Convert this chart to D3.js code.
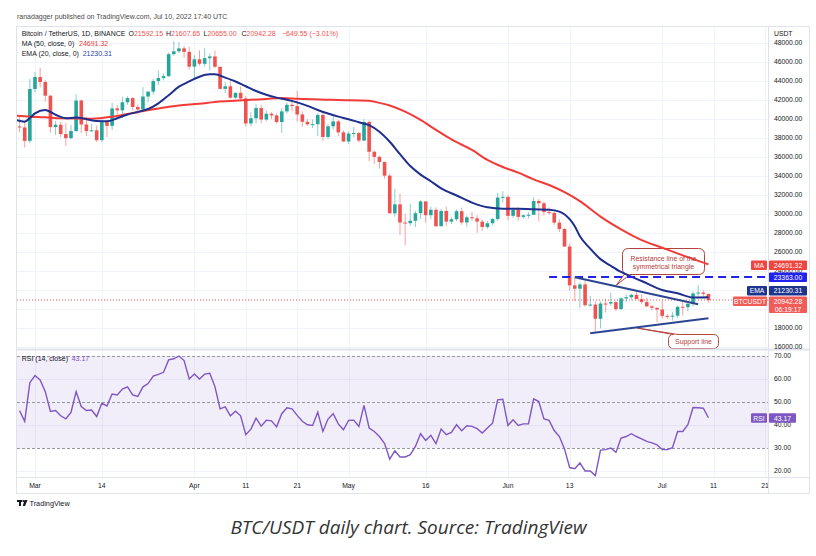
<!DOCTYPE html>
<html><head><meta charset="utf-8">
<script src="https://cdn.jsdelivr.net/npm/d3@7/dist/d3.min.js"></script>
<style>
html,body{margin:0;padding:0;background:#fff;}
svg{display:block;font-family:"Liberation Sans",Arial,sans-serif;}
</style></head><body>
<svg id="chart" width="816" height="556"></svg>
<script>
// ---------------- DATA ----------------
const firstDay = "2022-02-26"; // candles are consecutive daily bars from here
const opens = [39214,39105,37699,
43160,44421,43892,42454,39148,39397,38420,37988,38730,41941,39422,38729,38807,37777,39671,39280,41114,40917,41757,42201,41262,41002,42364,42882,43991,44313,44511,46827,47122,47434,47067,
45510,46283,45811,46407,46580,45497,43170,43445,42252,42754,42159,39530,40075,41147,39943,40552,40378,39679,40801,41493,41358,40480,39709,39441,39450,40426,38112,39235,39742,38596,
37630,38468,38525,37729,39690,36552,36013,35472,34039,30076,31017,29103,29030,29287,30086,31328,29874,30444,28715,30319,29201,29445,30293,29110,29655,29543,29202,28630,29031,29469,31734,
31802,29805,30452,29700,29864,29919,31373,31125,30204,30109,29091,28424,26574,22486,22136,22584,20401,20468,18970,20574,20573,20723,19987,21110,21237,21491,21038,20742,20281,20123,
19942,19279,19243,19297,20231,20190,20548,21637,21731,21592.15];
const highs = [40300,39855,44225,
44949,45400,44101,42527,39794,39693,39547,39362,42594,42039,40236,39486,39310,39947,39887,41718,41478,42325,42400,42296,41544,43361,42893,44220,45094,44792,46999,48189,48096,47700,47600,
46720,47213,47444,46890,47200,45507,43900,43970,42800,43434,42414,40699,41561,41500,40870,40709,40595,41145,41760,42199,42976,40795,39980,39940,40616,40797,39474,40372,39925,38795,
38675,39167,38651,39980,39845,36675,36146,35514,34243,32659,32163,30032,31083,30343,31460,31328,30788,30709,30545,30777,29656,30487,30670,29834,30223,29872,29397,29266,29587,32222,32399,
31982,30679,30699,29955,30189,31765,31589,31327,30700,30383,29440,28544,26895,23362,22800,22995,21365,20792,20815,21090,21723,20900,21233,21558,21614,21868,21540,21200,20432,20179,
20900,19438,19653,20354,20740,20675,21838,22527,21955,21607.65];
const lows = [38600,37000,37450,
42809,43334,41833,38550,38311,38088,37155,37867,38656,38539,38223,38660,37578,37555,38098,38828,40500,40135,41499,40911,40467,40875,41750,42560,43579,44071,44422,46663,46950,46445,45200,
44200,45620,45530,45118,45353,43121,42727,42107,42125,41868,39200,39254,39588,39551,39766,39991,39546,38536,40571,40820,39751,39177,39285,39032,38200,37702,37881,38881,38175,37578,
37386,38052,37517,37670,35571,35258,34785,33714,30033,29730,27785,26700,28751,28630,29480,29087,29450,28654,28691,28730,28947,29255,28866,28669,29294,28019,28261,28450,28810,29299,31200,
29350,29594,29282,29485,29531,29890,29218,29843,29944,28850,28100,26560,21925,20846,20111,20232,20246,17622,17960,19637,20348,19770,19890,20740,20906,21019,20500,20188,19854,18626,
18975,18967,18781,19038,19305,19761,20257,21189,21338,20655.00];
const closes = [39105,37699,43160,
44421,43892,42454,39148,39397,38420,37988,38730,41941,39422,38729,38807,37777,39671,39280,41114,40917,41757,42201,41262,41002,42364,42882,43991,44313,44511,46827,47122,47434,47067,45510,
46283,45811,46407,46580,45497,43170,43445,42252,42754,42159,39530,40075,41147,39943,40552,40378,39679,40801,41493,41358,40480,39709,39441,39450,40426,38112,39235,39742,38596,37630,
38468,38525,37729,39690,36552,36013,35472,34039,30076,31017,29103,29030,29287,30086,31328,29874,30444,28715,30319,29201,29445,30293,29110,29655,29543,29202,28630,29031,29469,31734,31802,
29805,30452,29700,29864,29919,31373,31125,30204,30109,29091,28424,26574,22487,22136,22584,20401,20468,18970,20574,20573,20723,19987,21110,21237,21491,21038,20742,20281,20123,19942,
19279,19243,19297,20231,20190,20548,21637,21731,21592,20942.28];
const rsiValues = [46.2,41.6,58.4,
61.5,59.6,54.5,45.9,46.3,44.0,42.7,45.5,54.5,48.0,46.3,46.5,43.7,49.5,48.3,53.5,53.1,55.6,56.6,53.1,52.4,56.6,58.0,61.3,62.0,62.9,68.3,68.8,70.0,68.0,60.0,
62.2,60.0,62.1,62.5,56.7,47.0,47.9,44.0,46.0,44.0,35.8,38.2,43.0,39.5,42.1,41.8,39.2,44.9,47.5,47.0,44.2,41.6,40.1,39.8,45.5,37.2,42.6,44.9,40.5,37.9,
42.0,42.1,39.4,48.5,38.7,37.2,35.0,31.9,25.2,28.8,26.1,26.1,27.1,30.7,36.2,33.3,35.5,31.9,38.2,35.8,36.8,40.1,37.5,39.7,39.4,38.4,36.5,38.7,40.8,50.9,51.2,
39.8,42.3,39.8,40.5,40.5,51.4,50.2,42.6,42.0,37.6,35.0,29.6,21.5,21.0,23.5,20.0,20.0,18.0,29.1,29.3,30.0,28.1,34.3,35.0,36.2,35.0,34.0,32.9,32.2,31.4,
29.3,29.3,30.1,37.2,37.2,40.1,47.6,47.5,47.3,43.17];

const maDates = ["2022-02-25","2022-02-28","2022-03-03","2022-03-06","2022-03-12","2022-03-16","2022-03-19","2022-03-22","2022-03-25","2022-03-29","2022-04-02","2022-04-05","2022-04-08","2022-04-12","2022-04-15","2022-04-18","2022-04-21","2022-04-24","2022-04-29","2022-05-05","2022-05-07","2022-05-09","2022-05-12","2022-05-15","2022-05-18","2022-05-21","2022-05-25","2022-05-28","2022-05-31","2022-06-03","2022-06-06","2022-06-09","2022-06-12","2022-06-15","2022-06-19","2022-06-23","2022-06-27","2022-07-01","2022-07-05","2022-07-10"];
const maValues = [40350,40240,40180,40070,40030,40240,40530,40840,41110,41420,41600,41790,41890,42020,42110,42210,42140,42070,42000,41930,41700,41420,40770,39900,38850,37850,36740,35700,34950,34350,33650,33050,32300,31350,29720,28380,27250,26450,25650,24691.32];

const emaDates = ["2022-02-25","2022-02-27","2022-02-28","2022-03-01","2022-03-03","2022-03-05","2022-03-07","2022-03-09","2022-03-11","2022-03-13","2022-03-15","2022-03-17","2022-03-19","2022-03-21","2022-03-23","2022-03-25","2022-03-27","2022-03-29","2022-03-31","2022-04-02","2022-04-04","2022-04-05","2022-04-07","2022-04-09","2022-04-11","2022-04-13","2022-04-15","2022-04-17","2022-04-19","2022-04-21","2022-04-23","2022-04-25","2022-04-27","2022-04-29","2022-05-01","2022-05-03","2022-05-05","2022-05-07","2022-05-09","2022-05-11","2022-05-13","2022-05-15","2022-05-17","2022-05-19","2022-05-22","2022-05-25","2022-05-28","2022-05-31","2022-06-03","2022-06-06","2022-06-09","2022-06-11","2022-06-13","2022-06-14","2022-06-15","2022-06-17","2022-06-19","2022-06-21","2022-06-23","2022-06-27","2022-07-01","2022-07-04","2022-07-07","2022-07-10"];
const emaValues = [39950,39720,40100,40600,40950,40450,40080,40150,39980,39780,39760,40080,40480,40750,41050,41650,42500,43400,43950,44450,44700,44700,44350,43950,43450,42950,42550,42250,42030,41750,41380,40950,40580,40250,39980,39650,39350,38650,37600,36300,35050,34150,33450,32700,31950,31200,30700,30550,30560,30490,30450,30250,29450,28700,27650,26350,25250,24550,23900,22950,22000,21650,21200,21230.31];

const priceTicks = [16000,18000,20000,22000,24000,26000,28000,30000,32000,34000,36000,38000,40000,42000,44000,46000,48000];
const rsiTicks = [20,30,40,50,60,70];
const rsiDashed = [30,50,70];
const xTickDates = ["2022-03-01","2022-03-14","2022-04-01","2022-04-11","2022-04-21","2022-05-01","2022-05-16","2022-06-01","2022-06-13","2022-07-01","2022-07-11","2022-07-21"];
const xTickLabels = ["Mar","14","Apr","11","21","May","16","Jun","13","Jul","11","21"];

const resistanceDates = ["2022-06-14","2022-07-08"];
const resistanceValues = [23340,20500];
const supportDates = ["2022-06-17","2022-07-10"];
const supportValues = [17450,19030];
const levelStart = "2022-06-09";
const levelValue = 23363.00;

const lastMA = 24691.32, lastEMA = 21230.31, lastClose = 20942.28, lastRSI = 43.17;
const ohlcHeader = {O:"21592.15",H:"21607.65",L:"20655.00",C:"20942.28",chg:"\u2212649.55 (\u22123.01%)"};

// ---------------- LAYOUT ----------------
const L = 17, R = 768, AXR = 809, TOP = 27, PB = 349, RT = 350, RB = 477, XB = 493;
const UP = "#26a69a", DN = "#ef5350";
const parse = d3.utcParse("%Y-%m-%d");
const svg = d3.select("#chart");

const x = d3.scaleUtc().domain([parse("2022-03-01"), parse("2022-07-21")]).range([35, 765]);
const y = d3.scaleLinear().domain([16000, 48000]).range([347, 43]);
const yr = d3.scaleLinear().domain([20, 70]).range([471, 356]);

const start = parse(firstDay);
const candles = closes.map((c, i) => ({date: d3.utcDay.offset(start, i), o: opens[i], h: highs[i], l: lows[i], c: c, rsi: rsiValues[i]}));

svg.append("rect").attr("width", 816).attr("height", 556).attr("fill", "#fff");

const defs = svg.append("defs");
defs.append("clipPath").attr("id", "cp").append("rect").attr("x", L).attr("y", TOP).attr("width", R - L).attr("height", PB - TOP);
defs.append("clipPath").attr("id", "cr").append("rect").attr("x", L).attr("y", RT).attr("width", R - L).attr("height", RB - RT);

// grid
const grid = svg.append("g").attr("stroke", "#f0f3fa").attr("stroke-width", 1);
xTickDates.forEach(d => {
  const xx = Math.round(x(parse(d))) + 0.5;
  if (xx < R) grid.append("line").attr("x1", xx).attr("x2", xx).attr("y1", TOP).attr("y2", RB);
});
priceTicks.forEach(v => {
  const yy = Math.round(y(v)) + 0.5;
  if (yy > TOP && yy < PB) grid.append("line").attr("x1", L).attr("x2", R).attr("y1", yy).attr("y2", yy);
});
[20, 40, 60].forEach(v => {
  const yy = Math.round(yr(v)) + 0.5;
  grid.append("line").attr("x1", L).attr("x2", R).attr("y1", yy).attr("y2", yy);
});

// RSI band
svg.append("rect").attr("x", L).attr("width", R - L).attr("y", yr(70)).attr("height", yr(30) - yr(70))
  .attr("fill", "#7e57c2").attr("fill-opacity", 0.1);
rsiDashed.forEach(v => {
  svg.append("line").attr("x1", L).attr("x2", R).attr("y1", Math.round(yr(v)) + 0.5).attr("y2", Math.round(yr(v)) + 0.5)
    .attr("stroke", "#9598a1").attr("stroke-width", 1).attr("stroke-dasharray", "3,2");
});

// price pane content
const pg = svg.append("g").attr("clip-path", "url(#cp)");

// last price dotted line
pg.append("line").attr("x1", L).attr("x2", R).attr("y1", y(lastClose)).attr("y2", y(lastClose))
  .attr("stroke", DN).attr("stroke-width", 1).attr("stroke-dasharray", "1,2");

const bw = 3.6;
const cg = pg.append("g");
cg.selectAll("line.wick").data(candles).join("line").attr("class", "wick")
  .attr("x1", d => x(d.date)).attr("x2", d => x(d.date))
  .attr("y1", d => y(d.h)).attr("y2", d => y(d.l))
  .attr("stroke", d => d.c >= d.o ? UP : DN).attr("stroke-opacity", 0.55).attr("stroke-width", 1);
cg.selectAll("rect.body").data(candles).join("rect").attr("class", "body")
  .attr("x", d => x(d.date) - bw / 2).attr("width", bw)
  .attr("y", d => y(Math.max(d.o, d.c)))
  .attr("height", d => Math.max(1, Math.abs(y(d.o) - y(d.c))))
  .attr("fill", d => d.c >= d.o ? UP : DN);

// callouts (under the indicator lines)
function callout(bx, by, w, h, r, side, t1, t2, tip) {
  let p;
  if (side === "bottom") {
    p = `M${bx + r},${by} H${bx + w - r} Q${bx + w},${by} ${bx + w},${by + r} V${by + h - r} Q${bx + w},${by + h} ${bx + w - r},${by + h} H${t2} L${tip[0]},${tip[1]} L${t1},${by + h} H${bx + r} Q${bx},${by + h} ${bx},${by + h - r} V${by + r} Q${bx},${by} ${bx + r},${by} Z`;
  } else {
    p = `M${bx + r},${by} L${tip[0]},${tip[1]} L${t2},${by} H${bx + w - r} Q${bx + w},${by} ${bx + w},${by + r} V${by + h - r} Q${bx + w},${by + h} ${bx + w - r},${by + h} H${bx + r} Q${bx},${by + h} ${bx},${by + h - r} V${by + r} Q${bx},${by} ${bx + r},${by} Z`;
  }
  svg.append("path").attr("d", p).attr("fill", "#fff").attr("stroke", "#b2443f").attr("stroke-width", 1);
}
callout(622.5, 248.5, 82, 26, 6, "bottom", 624, 630, [616.5, 285]);
callout(668.5, 334.5, 50, 14, 5, "top", 0, 678, [637, 328]);

const lg2 = svg.append("g").attr("clip-path", "url(#cp)");
const lineGen = d3.line().curve(d3.curveMonotoneX);
lg2.append("path").attr("d", lineGen(maDates.map((d, i) => [x(parse(d)), y(maValues[i])])))
  .attr("fill", "none").attr("stroke", "#f23a36").attr("stroke-width", 2);
lg2.append("path").attr("d", lineGen(emaDates.map((d, i) => [x(parse(d)), y(emaValues[i])])))
  .attr("fill", "none").attr("stroke", "#1e2f8e").attr("stroke-width", 2);

// drawings
lg2.append("line").attr("x1", x(parse(levelStart))).attr("x2", R).attr("y1", y(levelValue)).attr("y2", y(levelValue))
  .attr("stroke", "#2222ee").attr("stroke-width", 2).attr("stroke-dasharray", "8,5");
lg2.append("line").attr("x1", x(parse(resistanceDates[0]))).attr("x2", x(parse(resistanceDates[1])))
  .attr("y1", y(resistanceValues[0])).attr("y2", y(resistanceValues[1]))
  .attr("stroke", "#2c4592").attr("stroke-width", 2);
lg2.append("line").attr("x1", x(parse(supportDates[0]))).attr("x2", x(parse(supportDates[1])))
  .attr("y1", y(supportValues[0])).attr("y2", y(supportValues[1]))
  .attr("stroke", "#2c4592").attr("stroke-width", 2);

svg.append("text").attr("x", 663.5).attr("y", 260.5).attr("text-anchor", "middle").attr("font-size", 6.9).attr("fill", "#b5403c").text("Resistance line of the");
svg.append("text").attr("x", 663.5).attr("y", 268.5).attr("text-anchor", "middle").attr("font-size", 6.9).attr("fill", "#b5403c").text("symmetrical triangle");
svg.append("text").attr("x", 693.5).attr("y", 344).attr("text-anchor", "middle").attr("font-size", 6.9).attr("fill", "#b5403c").text("Support line");

// RSI line
svg.append("g").attr("clip-path", "url(#cr)").append("path")
  .attr("d", d3.line()(candles.map(d => [x(d.date), yr(d.rsi)])))
  .attr("fill", "none").attr("stroke", "#7e57c2").attr("stroke-width", 1.4);

// frame
const fr = svg.append("g").attr("fill", "none").attr("stroke", "#e0e3eb");
fr.append("rect").attr("x", L - 0.5).attr("y", TOP - 0.5).attr("width", AXR - L + 1).attr("height", XB - TOP + 1);
fr.append("line").attr("x1", L).attr("x2", AXR).attr("y1", PB + 0.5).attr("y2", PB + 0.5).attr("stroke-width", 2);
fr.append("line").attr("x1", R + 0.5).attr("x2", R + 0.5).attr("y1", TOP).attr("y2", XB);
fr.append("line").attr("x1", L).attr("x2", AXR).attr("y1", RB + 0.5).attr("y2", RB + 0.5);

// axis labels
const axg = svg.append("g").attr("font-size", 6.8).attr("fill", "#131722");
svg.append("defs").append("clipPath").attr("id", "cax").append("rect").attr("x", R).attr("y", TOP).attr("width", AXR - R).attr("height", PB - TOP);
const pAx = axg.append("g").attr("clip-path", "url(#cax)");
priceTicks.forEach(v => {
  pAx.append("text").attr("x", 774).attr("y", y(v) + 2.4).text(v.toFixed(2));
});
axg.append("text").attr("x", 774).attr("y", 35.5).text("USDT");
rsiTicks.forEach(v => {
  axg.append("text").attr("x", 774).attr("y", yr(v) + 2.4).text(v.toFixed(2));
});
svg.append("defs").append("clipPath").attr("id", "cxa").append("rect").attr("x", L).attr("y", RB).attr("width", R - L).attr("height", XB - RB);
const xAx = axg.append("g").attr("clip-path", "url(#cxa)");
xTickDates.forEach((d, i) => {
  xAx.append("text").attr("x", x(parse(d))).attr("y", 487.8).attr("text-anchor", "middle").text(xTickLabels[i]);
});

// badges
function badge(bx, by, w, h, color, lines) {
  svg.append("rect").attr("x", bx).attr("y", by).attr("width", w).attr("height", h).attr("fill", color).attr("rx", 1);
  lines.forEach((t, i) => {
    svg.append("text").attr("x", bx + w / 2).attr("y", by + 7.3 + i * 8).attr("text-anchor", "middle")
      .attr("font-size", 6.8).attr("fill", "#fff").text(t);
  });
}
const maY = y(lastMA);
badge(751, maY - 4, 16, 9.5, "#f0463f", ["MA"]);
badge(769, maY - 4, 38, 9.5, "#f0463f", [lastMA.toFixed(2)]);
const lvY = y(levelValue);
badge(769, lvY - 4.5, 38, 9.5, "#2222ee", [levelValue.toFixed(2)]);
const emaY = 286;
badge(747, emaY, 20, 9.5, "#1e3590", ["EMA"]);
badge(769, emaY, 38, 9.5, "#1e3590", [lastEMA.toFixed(2)]);
const clY = y(lastClose) - 3.5;
badge(733, clY, 34, 9.5, "#f25c58", ["BTCUSDT"]);
badge(769, clY, 38, 16.5, "#f25c58", [lastClose.toFixed(2), "06:19:17"]);
const rsY = yr(lastRSI) - 4.5;
badge(751, rsY, 16, 9.5, "#7e57c2", ["RSI"]);
badge(769, rsY, 27, 9.5, "#7e57c2", [lastRSI.toFixed(2)]);

// header
const hd = svg.append("g").attr("font-size", 7).attr("fill", "#131722");
hd.append("text").attr("x", 17).attr("y", 19.2).attr("fill", "#4a4a4a").text("ranadagger published on TradingView.com, Jul 10, 2022 17:40 UTC");
const l2 = hd.append("text").attr("y", 35.8);
l2.append("tspan").attr("x", 21.7).text("Bitcoin / TetherUS, 1D, BINANCE");
[["O", 128.5], ["H", 166], ["L", 203.5], ["C", 241.5]].forEach(([k, px]) => {
  l2.append("tspan").attr("x", px).text(k);
  l2.append("tspan").attr("fill", DN).text(ohlcHeader[k]);
});
l2.append("tspan").attr("x", 282).attr("fill", DN).text(ohlcHeader.chg);
const l3 = hd.append("text").attr("y", 46.3);
l3.append("tspan").attr("x", 21.7).text("MA (50, close, 0)");
l3.append("tspan").attr("x", 79).attr("fill", "#f23a36").text(lastMA.toFixed(2));
const l4 = hd.append("text").attr("y", 55.6);
l4.append("tspan").attr("x", 21.7).text("EMA (20, close, 0)");
l4.append("tspan").attr("x", 82.7).attr("fill", "#2a44a8").text(lastEMA.toFixed(2));
const l5 = hd.append("text").attr("y", 360.8);
l5.append("tspan").attr("x", 21.7).text("RSI (14, close)");
l5.append("tspan").attr("x", 71.7).attr("fill", "#7e57c2").text(lastRSI.toFixed(2));

// TradingView logo
const lg = svg.append("g").attr("fill", "#131722");
lg.append("rect").attr("x", 17).attr("y", 500).attr("width", 5).attr("height", 2);
lg.append("rect").attr("x", 19).attr("y", 500).attr("width", 2).attr("height", 6);
lg.append("circle").attr("cx", 23.3).attr("cy", 501).attr("r", 1);
lg.append("path").attr("d", "M24.5,500 L27.5,500 L25,506 L22.8,506 Z");
svg.append("text").attr("x", 29.5).attr("y", 505.8).attr("font-size", 7.3).attr("fill", "#131722").text("TradingView");

// caption
svg.append("text").attr("x", 408.5).attr("y", 533.5).attr("text-anchor", "middle")
  .attr("font-family", "'Open Sans', sans-serif").attr("font-style", "italic").attr("font-size", 19)
  .attr("fill", "#333").text("BTC/USDT daily chart. Source: TradingView");
</script>
</body></html>
